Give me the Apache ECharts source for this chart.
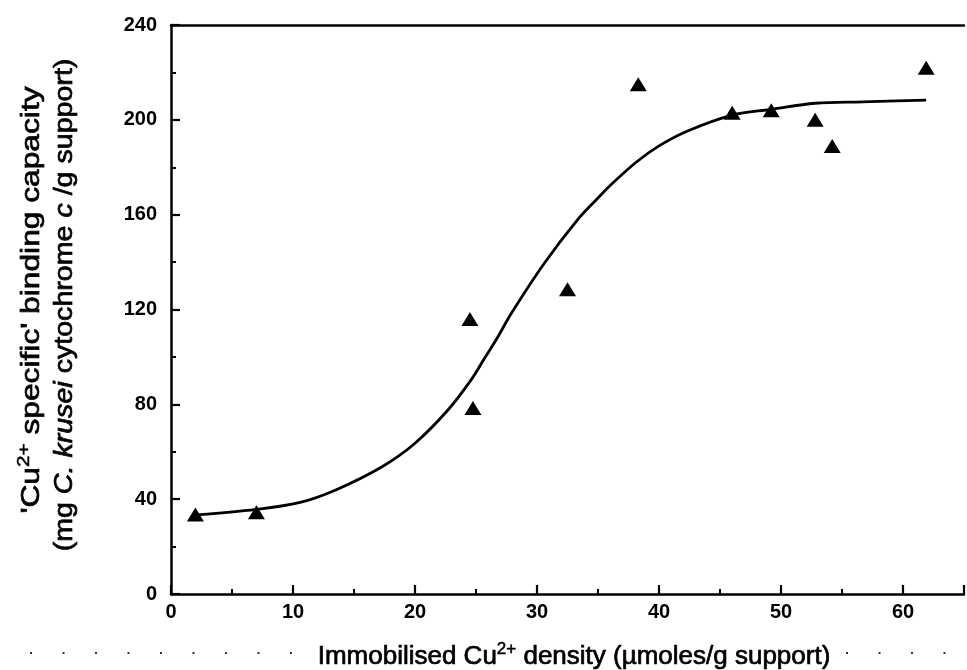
<!DOCTYPE html>
<html>
<head>
<meta charset="utf-8">
<title>Cu2+ specific binding capacity</title>
<script src="https://cdn.jsdelivr.net/npm/echarts@6/dist/echarts.min.js"></script>
<style>
  html, body { margin: 0; padding: 0; background: #fff; }
  #chart { width: 967px; height: 670px; }
</style>
</head>
<body>
<div id="chart"></div>
<script>
// Measured binding capacity vs. immobilised Cu2+ density
const densityX = [2.0, 7.0, 24.5, 24.75, 32.5, 38.3, 46.0, 49.2, 52.8, 54.2, 61.9];
const capacityY = [33.5, 34.5, 116, 78.5, 128.5, 215, 203, 204, 200, 189, 222];

// Fitted sigmoid curve, sampled along x
const fitX = [1.9, 7.0, 10.5, 13.5, 17.3, 20.0, 22.7, 24.6, 25.7, 26.8, 27.9, 30.6, 33.3, 34.9, 36.0, 38.1, 40.0, 42.3, 46.0, 49.2, 52.8, 56.7, 61.9];
const fitY = [33.3, 35.7, 38.5, 43.9, 53.7, 63.6, 77.6, 90.3, 99.4, 108.5, 118.4, 139.5, 157.7, 166.5, 172.3, 182.0, 189.0, 195.2, 202, 204.4, 207, 207.6, 208.3];

// Axis ranges and ticks
const xRange = [0, 65];
const xStep = 10;
const yRange = [0, 240];
const yStep = 40;

const FONT = '"Liberation Sans", Arial, sans-serif';
const INK = '#000';
const TITLE_SIZE = 26;

const chart = echarts.init(document.getElementById('chart'), null, { renderer: 'canvas' });

const pairs = (xs, ys) => xs.map((x, i) => [x, ys[i]]);

const axisCommon = {
  axisLine: { show: true, onZero: false, lineStyle: { color: INK, width: 2.5 } },
  axisTick: { show: true, inside: true, length: 9, lineStyle: { color: INK, width: 2.2 } },
  minorTick: { show: true, splitNumber: 2, length: 5, lineStyle: { color: INK, width: 2 } },
  splitLine: { show: false },
  axisLabel: { color: INK, fontFamily: FONT, fontSize: 20, fontWeight: 'bold' }
};

// Title text: regular face with a thin outline for a heavier print look
const inked = extra => Object.assign({
  fontFamily: FONT, fontSize: TITLE_SIZE, fill: INK,
  stroke: INK, lineWidth: 0.7, lineHeight: 32
}, extra || {});

const titleRich = {
  b: inked(),
  i: inked({ fontStyle: 'italic' }),
  s: inked({ fontSize: 17, lineWidth: 0.5, padding: [0, 0, 16, 0] })
};

chart.setOption({
  animation: false,
  backgroundColor: '#fff',
  grid: { left: 171, top: 25, right: -2, bottom: 76, containLabel: false },
  xAxis: [
    Object.assign({}, axisCommon, {
      type: 'value', position: 'bottom',
      min: xRange[0], max: xRange[1], interval: xStep,
      axisLabel: Object.assign({}, axisCommon.axisLabel, {
        margin: 8,
        formatter: v => (v % xStep === 0 ? String(v) : '')
      })
    }),
    {
      type: 'value', position: 'top',
      min: xRange[0], max: xRange[1],
      axisLine: { show: true, onZero: false, lineStyle: { color: INK, width: 2.5 } },
      axisTick: { show: false }, axisLabel: { show: false }, splitLine: { show: false }
    }
  ],
  yAxis: [
    Object.assign({}, axisCommon, {
      type: 'value', position: 'left',
      min: yRange[0], max: yRange[1], interval: yStep,
      axisLabel: Object.assign({}, axisCommon.axisLabel, { margin: 14 })
    })
  ],
  series: [
    {
      type: 'line',
      data: pairs(fitX, fitY),
      smooth: 0.35,
      showSymbol: false,
      symbol: 'none',
      lineStyle: { color: INK, width: 2.8 },
      z: 2
    },
    {
      type: 'scatter',
      data: pairs(densityX, capacityY),
      symbol: 'triangle',
      symbolSize: [17, 14],
      itemStyle: { color: INK, opacity: 1 },
      z: 3
    }
  ],
  graphic: [
    // x-axis title
    {
      type: 'text',
      x: 574,
      y: 657,
      style: {
        text: '{b|Immobilised Cu}{s|2+}{b| density (µmoles/g support)}',
        align: 'center',
        verticalAlign: 'middle',
        rich: titleRich
      }
    },
    // y-axis title, two rotated lines
    {
      type: 'text',
      x: 32,
      y: 300,
      rotation: Math.PI / 2,
      scaleX: 1.22,
      style: {
        text: "{b|'Cu}{s|2+}{b| specific' binding capacity}",
        align: 'center',
        verticalAlign: 'middle',
        rich: titleRich
      }
    },
    {
      type: 'text',
      x: 65,
      y: 305,
      rotation: Math.PI / 2,
      scaleX: 1.1,
      style: {
        text: '{b|(mg }{i|C. krusei}{b| cytochrome }{i|c}{b| /g support)}',
        align: 'center',
        verticalAlign: 'middle',
        rich: titleRich
      }
    },
    // dotted rule along the bottom edge
    {
      type: 'line', silent: true,
      shape: { x1: 30, y1: 653, x2: 300, y2: 653 },
      style: { stroke: '#333', lineWidth: 2, lineDash: [2, 30.5] }
    },
    {
      type: 'line', silent: true,
      shape: { x1: 846, y1: 653, x2: 960, y2: 653 },
      style: { stroke: '#333', lineWidth: 2, lineDash: [2, 30.5] }
    }
  ]
});
</script>
</body>
</html>
